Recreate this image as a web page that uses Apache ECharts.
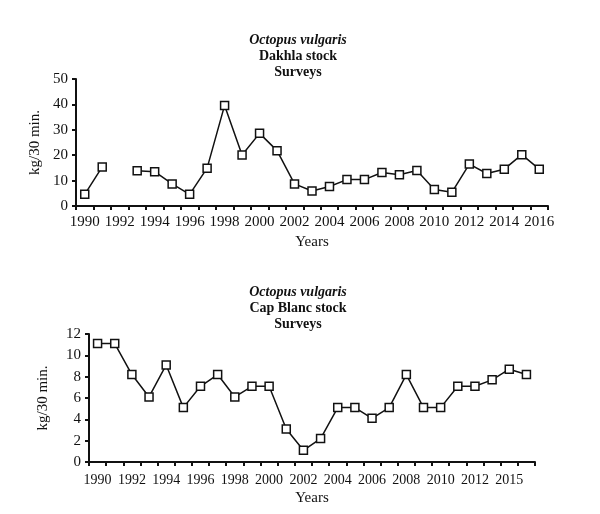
<!DOCTYPE html>
<html>
<head>
<meta charset="utf-8">
<script src="https://cdn.jsdelivr.net/npm/echarts@6/dist/echarts.min.js"></script>
<style>
  html, body { margin: 0; padding: 0; background: #fff; }
  #chart { width: 600px; height: 514px; }
</style>
</head>
<body>
<div id="chart"></div>
<script>
// Dakhla stock, 1990-2016 (1992 missing)
const dakhlaYears = ['1990', '1991', '1992', '1993', '1994', '1995', '1996', '1997', '1998', '1999',
  '2000', '2001', '2002', '2003', '2004', '2005', '2006', '2007', '2008', '2009',
  '2010', '2011', '2012', '2013', '2014', '2015', '2016']
const dakhlaValues = [4.6, 15.4, null, 13.9, 13.5, 8.7, 4.6, 14.9, 39.6, 20.1,
  28.6, 21.8, 8.7, 5.9, 7.7, 10.4, 10.4, 13.2, 12.3, 14.0,
  6.5, 5.4, 16.5, 12.8, 14.5, 20.2, 14.5]

// Cap Blanc stock
const capBlancYears = ['1990', '1991', '1992', '1993', '1994', '1995', '1996', '1997', '1998', '1999',
  '2000', '2001', '2002', '2003', '2004', '2005', '2006', '2007', '2008', '2009',
  '2010', '2011', '2012', '2013', '2015', '2016']
const capBlancValues = [11.1, 11.1, 8.2, 6.1, 9.1, 5.1, 7.1, 8.2, 6.1, 7.1,
  7.1, 3.1, 1.1, 2.2, 5.1, 5.1, 4.1, 5.1, 8.2, 5.1,
  5.1, 7.1, 7.1, 7.7, 8.7, 8.2]

const font = 'Liberation Serif'
const black = '#111'

function titleOf(stock, top) {
  return {
    text: '{a|Octopus vulgaris}\n{b|' + stock + '}\n{b|Surveys}',
    left: 293,
    top: top,
    textAlign: 'center',
    textStyle: {
      rich: {
        a: { fontFamily: font, fontSize: 14, fontWeight: 'bold', fontStyle: 'italic', color: black, lineHeight: 16, align: 'center' },
        b: { fontFamily: font, fontSize: 14, fontWeight: 'bold', color: black, lineHeight: 16, align: 'center' }
      }
    }
  }
}

function xAxisOf(idx, data, fontSize, margin) {
  return {
    type: 'category',
    gridIndex: idx,
    data: data,
    boundaryGap: true,
    name: 'Years',
    nameLocation: 'middle',
    nameGap: 29,
    nameTextStyle: { fontFamily: font, fontSize: 15, color: black },
    axisLine: { show: true, lineStyle: { color: black, width: 2 } },
    axisTick: { show: true, interval: 0, length: 4, lineStyle: { color: black, width: 2 } },
    axisLabel: { interval: 1, margin: margin, fontFamily: font, fontSize: fontSize, color: black },
    splitLine: { show: false }
  }
}

function yAxisOf(idx, max, interval, gap) {
  return {
    type: 'value',
    gridIndex: idx,
    min: 0,
    max: max,
    interval: interval,
    name: 'kg/30 min.',
    nameLocation: 'middle',
    nameRotate: 90,
    nameGap: gap,
    nameTextStyle: { fontFamily: font, fontSize: 15, color: black },
    axisLine: { show: true, lineStyle: { color: black, width: 2 } },
    axisTick: { show: true, length: 4, lineStyle: { color: black, width: 2 } },
    axisLabel: { margin: 8, fontFamily: font, fontSize: 15, color: black },
    splitLine: { show: false }
  }
}

function seriesOf(idx, data) {
  return {
    type: 'line',
    xAxisIndex: idx,
    yAxisIndex: idx,
    data: data,
    connectNulls: false,
    symbol: 'rect',
    symbolSize: 8,
    showAllSymbol: true,
    lineStyle: { color: black, width: 1.5 },
    itemStyle: { color: '#fff', borderColor: black, borderWidth: 1.5 },
    animation: false
  }
}

const chart = echarts.init(document.getElementById('chart'), null, { renderer: 'canvas' })
chart.setOption({
  backgroundColor: '#fff',
  animation: false,
  title: [titleOf('Dakhla stock', 27), titleOf('Cap Blanc stock', 279)],
  grid: [
    { left: 76, top: 79, width: 472, height: 127 },
    { left: 89, top: 334, width: 446, height: 128 }
  ],
  xAxis: [xAxisOf(0, dakhlaYears, 15, 9), xAxisOf(1, capBlancYears, 14, 11)],
  yAxis: [yAxisOf(0, 50, 10, 32), yAxisOf(1, 12, 2, 38)],
  series: [seriesOf(0, dakhlaValues), seriesOf(1, capBlancValues)]
})
</script>
</body>
</html>
